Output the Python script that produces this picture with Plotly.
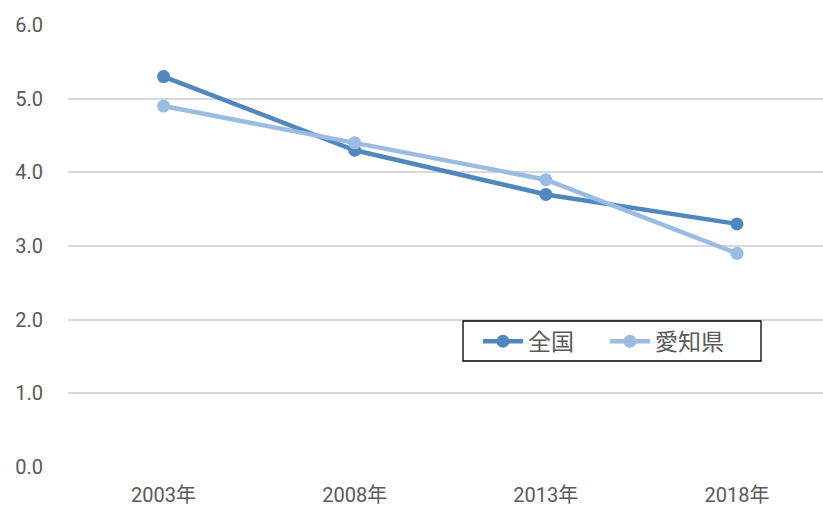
import plotly.graph_objects as go

years = ["2003年", "2008年", "2013年", "2018年"]
national = [5.3, 4.3, 3.7, 3.3]
aichi = [4.9, 4.4, 3.9, 2.9]
y_ticks = [0, 1, 2, 3, 4, 5, 6]
y_tick_text = ["0.0", "1.0", "2.0", "3.0", "4.0", "5.0", "6.0"]

font_family = "Roboto, Noto Sans CJK JP, sans-serif"

fig = go.Figure()
fig.add_trace(go.Scatter(
    x=years, y=national, name="全国", mode="lines+markers",
    line=dict(color="#4F87BE", width=4.5),
    marker=dict(color="#4F87BE", size=13),
))
fig.add_trace(go.Scatter(
    x=years, y=aichi, name="愛知県", mode="lines+markers",
    line=dict(color="#9BBCE2", width=4.5),
    marker=dict(color="#9BBCE2", size=13),
))

# Frame around the legend entries
fig.add_shape(
    type="rect", xref="x domain", yref="y domain",
    x0=0.5232, x1=0.9179, y0=0.2398, y1=0.3303,
    line=dict(color="#000000", width=1.3), fillcolor="white", layer="above",
)

fig.update_layout(
    width=823, height=506,
    margin=dict(l=68, r=0, t=25, b=39, autoexpand=False),
    paper_bgcolor="white", plot_bgcolor="white",
    font=dict(family=font_family, color="#595959", size=20),
    showlegend=True,
    legend=dict(
        orientation="h", x=0.543, y=0.333, xanchor="left", yanchor="top",
        bgcolor="rgba(0,0,0,0)", borderwidth=0,
        font=dict(size=23, color="#595959"),
        entrywidth=72, entrywidthmode="pixels",
        itemwidth=40,
    ),
    xaxis=dict(
        type="category", range=[-0.5, 3.45],
        showgrid=False, zeroline=False, showline=False,
        ticks="", ticklabelstandoff=14,
        tickfont=dict(size=20, color="#595959"),
    ),
    yaxis=dict(
        range=[0, 6], tickvals=y_ticks, ticktext=y_tick_text,
        showgrid=True, gridcolor="#D9D9D9", gridwidth=1.5,
        zeroline=False, showline=False, ticks="",
        ticklabelstandoff=24,
        tickfont=dict(size=20, color="#595959"),
    ),
)

fig.write_html("out.html")
